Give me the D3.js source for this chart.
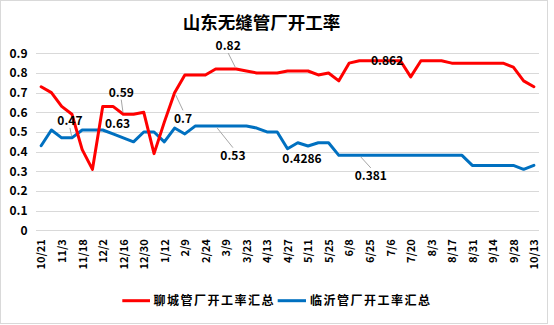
<!DOCTYPE html>
<html>
<head>
<meta charset="utf-8">
<script src="https://cdn.jsdelivr.net/npm/d3@7"></script>
<style>
  html, body { margin: 0; padding: 0; background: #fff; }
  svg { display: block; font-family: "Noto Sans CJK SC", "Microsoft YaHei", sans-serif; }
</style>
</head>
<body>
<svg id="chart" width="554" height="325"></svg>
<script>
// Weekly survey dates
const dates = [
  "10/21","10/27","11/3","11/10","11/18","11/25","12/2","12/9","12/16","12/23",
  "12/30","1/6","1/12","1/26","2/9","2/17","2/24","3/2","3/9","3/16",
  "3/23","3/30","4/13","4/20","4/27","5/4","5/11","5/18","5/25","6/1",
  "6/8","6/15","6/25","6/29","7/6","7/13","7/20","7/27","8/3","8/10",
  "8/17","8/24","8/31","9/7","9/14","9/21","9/28","10/5","10/13"
];

// 聊城管厂开工率汇总
const liaocheng = [
  0.73,0.70,0.63,0.59,0.41,0.31,0.63,0.63,0.59,0.59,
  0.60,0.39,0.55,0.70,0.79,0.79,0.79,0.82,0.82,0.82,
  0.81,0.80,0.80,0.80,0.81,0.81,0.81,0.79,0.80,0.76,
  0.85,0.862,0.862,0.862,0.862,0.862,0.78,0.862,0.862,0.862,
  0.85,0.85,0.85,0.85,0.85,0.85,0.83,0.76,0.73
];

// 临沂管厂开工率汇总
const linyi = [
  0.43,0.51,0.47,0.47,0.51,0.51,0.51,0.49,0.47,0.45,
  0.50,0.50,0.45,0.52,0.49,0.53,0.53,0.53,0.53,0.53,
  0.53,0.52,0.50,0.50,0.415,0.445,0.4286,0.445,0.445,0.381,
  0.381,0.381,0.381,0.381,0.381,0.381,0.381,0.381,0.381,0.381,
  0.381,0.381,0.33,0.33,0.33,0.33,0.33,0.31,0.33
];

const yTicks = [0, 0.1, 0.2, 0.3, 0.4, 0.5, 0.6, 0.7, 0.8, 0.9];

const seriesNames = ["聊城管厂开工率汇总", "临沂管厂开工率汇总"];
const seriesColors = ["#FF0000", "#0070C0"];

// Points that carry a value label: [series index, date index]
const labelledPoints = [[1,3],[0,8],[0,7],[0,13],[0,19],[1,17],[1,26],[1,31],[0,34]];

const svg = d3.select("#chart");
const W = 554, H = 325;
const plot = { left: 36, right: 539, top: 53.3, bottom: 230.3 };

// outer frame
svg.append("rect")
  .attr("x", 0.5).attr("y", 0.5)
  .attr("width", 547).attr("height", 323)
  .attr("fill", "#fff").attr("stroke", "#d9d9d9");

svg.append("text")
  .attr("x", 261.5).attr("y", 28.5)
  .attr("text-anchor", "middle")
  .attr("font-size", 17.5).attr("font-weight", "bold")
  .attr("fill", "#000")
  .text("山东无缝管厂开工率");

const x = d3.scalePoint().domain(dates).range([plot.left, plot.right]).padding(0.5);
const y = d3.scaleLinear().domain([0, 0.9]).range([plot.bottom, plot.top]);

// horizontal gridlines
svg.append("g").selectAll("line").data(yTicks).join("line")
  .attr("x1", plot.left).attr("x2", plot.right)
  .attr("y1", d => Math.round(y(d)) + 0.5).attr("y2", d => Math.round(y(d)) + 0.5)
  .attr("stroke", "#d9d9d9").attr("stroke-width", 1);

// y axis labels
const yAxis = d3.axisLeft(y).tickValues(yTicks).tickSize(0).tickPadding(0)
  .tickFormat(d => d === 0 ? "0" : d3.format(".1f")(d));
const yg = svg.append("g").attr("transform", `translate(27.5,0)`).call(yAxis);
yg.select(".domain").remove();
yg.selectAll("text").attr("font-size", 12).attr("font-weight", "bold").attr("fill", "#000")
  .attr("font-family", "Noto Sans CJK SC");

// x axis labels, every other date, rotated
const xAxis = d3.axisBottom(x).tickSize(0)
  .tickValues(dates.filter((d, i) => i % 2 === 0));
const xg = svg.append("g").attr("transform", `translate(0,${plot.bottom})`).call(xAxis);
xg.select(".domain").remove();
xg.selectAll("text")
  .attr("font-size", 11).attr("font-weight", "bold").attr("fill", "#000")
  .attr("font-family", "Noto Sans CJK SC")
  .attr("transform", "rotate(-90)")
  .attr("text-anchor", "end")
  .attr("x", -9).attr("y", 0).attr("dy", "0.35em");

// series lines
const allSeries = [liaocheng, linyi];
const line = d3.line().x((d, i) => x(dates[i])).y(d => y(d));
allSeries.slice().reverse().forEach((vals, k) => {
  const s = allSeries.length - 1 - k;
  svg.append("path")
    .datum(vals)
    .attr("d", line)
    .attr("fill", "none")
    .attr("stroke", seriesColors[s])
    .attr("stroke-width", 3)
    .attr("stroke-linejoin", "round")
    .attr("stroke-linecap", "round");
});

// value labels with leader lines
const labelShift = {
  "1-3":  [-2, -17, true],
  "0-8":  [-2, -21.6, true],
  "0-7":  [4.5, 17, false],
  "0-13": [8.4, 25.7, true],
  "0-19": [-8, -23, true],
  "1-17": [17.3, 29.6, true],
  "1-26": [-6, 12.3, false],
  "1-31": [11.5, 20.6, true],
  "0-34": [-3, 0, false]
};
const lab = svg.append("g");
labelledPoints.forEach(([s, i]) => {
  const v = allSeries[s][i];
  const px = x(dates[i]), py = y(v);
  const [dx, dy, leader] = labelShift[`${s}-${i}`];
  const cx = px + dx, cy = py + dy;
  if (leader) {
    const sy = dy < 0 ? cy + 7 : cy - 8;
    const len = Math.hypot(px - cx, py - sy);
    const ex = px - (px - cx) / len * 2, ey = py - (py - sy) / len * 2;
    lab.append("line")
      .attr("x1", cx).attr("y1", sy).attr("x2", ex).attr("y2", ey)
      .attr("stroke", "#a6a6a6").attr("stroke-width", 1);
  }
  lab.append("text")
    .attr("x", cx).attr("y", cy).attr("dy", "0.36em")
    .attr("text-anchor", "middle")
    .attr("font-size", 12).attr("font-weight", "bold").attr("fill", "#000")
    .text(String(v));
});

// legend
const legendItems = [
  { x1: 122.3, x2: 150, tx: 153.5 },
  { x1: 277.7, x2: 306, tx: 310 }
];
const lg = svg.append("g");
legendItems.forEach((it, s) => {
  lg.append("line")
    .attr("x1", it.x1).attr("x2", it.x2).attr("y1", 300.7).attr("y2", 300.7)
    .attr("stroke", seriesColors[s]).attr("stroke-width", 3);
  lg.append("text")
    .attr("x", it.tx).attr("y", 300.7).attr("dy", "0.36em")
    .attr("font-size", 12).attr("font-weight", "bold").attr("fill", "#000")
    .attr("letter-spacing", 1.5)
    .text(seriesNames[s]);
});
</script>
</body>
</html>
